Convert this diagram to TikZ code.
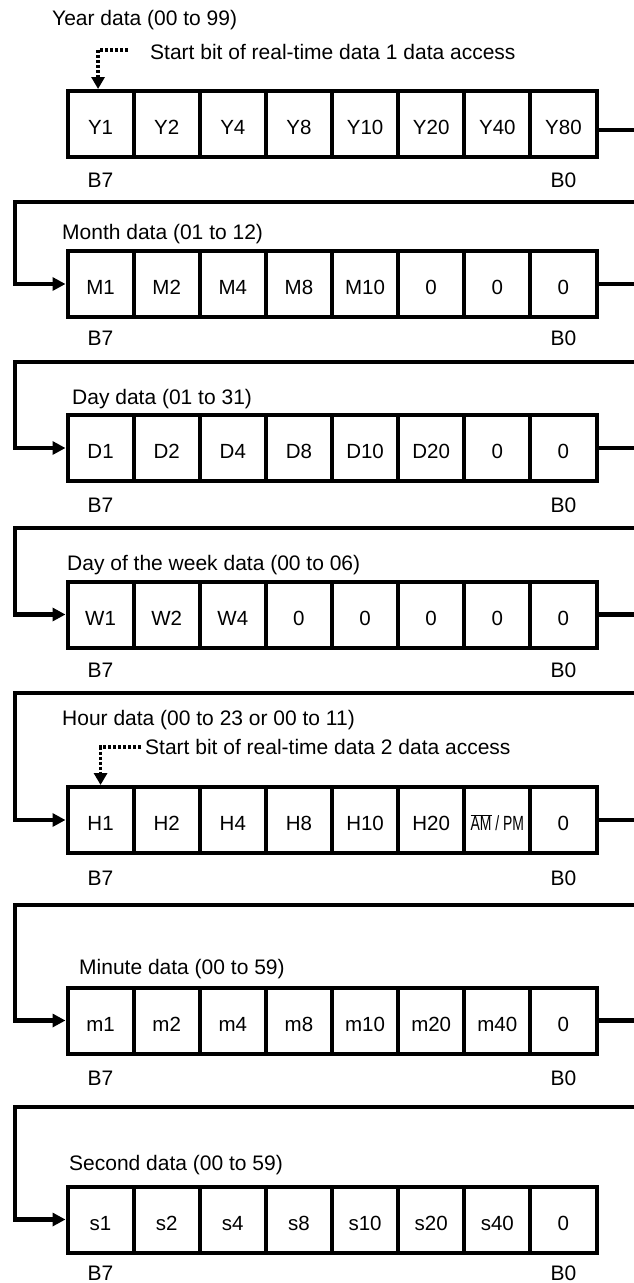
\documentclass[tikz,border=0pt]{standalone}
\usepackage{fontspec}
\setmainfont{Liberation Sans}
\usepackage{graphicx}
\usetikzlibrary{arrows.meta,calc}
\newcommand\bitrow[3]{%
  \foreach \t [count=\i] in {#3} {
    \node[cell] (#1\i) at ({67.5+66.125*(\i-0.5)}, #2) {\t};
  }%
}
\newcommand\ampmtext{\scalebox{0.68}[1]{$\overline{\mbox{AM}}$ / PM}}
\begin{document}
\begin{tikzpicture}[x=1pt,y=-1pt,
  cell/.style={draw, line width=4pt, minimum width=66.125pt, minimum height=66pt,
    inner sep=0pt, text height=21pt, text depth=0pt, font=\fontsize{20.5}{24}\selectfont},
  title/.style={anchor=base west, inner sep=0pt, font=\fontsize{21}{25}\selectfont},
  lab/.style={anchor=base, inner sep=0pt, font=\fontsize{21}{25}\selectfont},
  conn/.style={line width=4.5pt, line join=miter, -{Triangle[length=13pt,width=13pt]}},
  dotarr/.style={line width=3.5pt, dash pattern=on 3pt off 2pt, -{Triangle[length=12pt,width=13pt]}}
]
\path[use as bounding box] (0,0) rectangle (634,1283);
\clip (0,0) rectangle (634,1283);

% titles
\node[title] (t1) at (52,25.5) {Year data (00 to 99)};
\node[title] (t2) at (62,239.5) {Month data (01 to 12)};
\node[title] (t3) at (72,404.5) {Day data (01 to 31)};
\node[title] (t4) at (67,570.5) {Day of the week data (00 to 06)};
\node[title] (t5) at (62,725.5) {Hour data (00 to 23 or 00 to 11)};
\node[title] (t6) at (79,974.5) {Minute data (00 to 59)};
\node[title] (t7) at (69,1170.5) {Second data (00 to 59)};
\node[title] (sb1) at (150,59.5) {Start bit of real-time data 1 data access};
\node[title] (sb2) at (145,754.5) {Start bit of real-time data 2 data access};

% bit rows
\bitrow{a}{124}{Y1,Y2,Y4,Y8,Y10,Y20,Y40,Y80}
\bitrow{b}{284}{M1,M2,M4,M8,M10,0,0,0}
\bitrow{c}{448}{D1,D2,D4,D8,D10,D20,0,0}
\bitrow{d}{614.5}{W1,W2,W4,0,0,0,0,0}
\bitrow{e}{820}{H1,H2,H4,H8,H10,H20,{\ampmtext},0}
\bitrow{f}{1020.5}{m1,m2,m4,m8,m10,m20,m40,0}
\bitrow{g}{1219.5}{s1,s2,s4,s8,s10,s20,s40,0}

% B7 / B0 labels
\foreach \r/\y in {a/187.5,b/345.5,c/512.5,d/677.5,e/885.5,f/1085.5,g/1280.5}{
  \node[lab] (\r B7) at (100.5,\y) {B7};
  \node[lab] (\r B0) at (563.5,\y) {B0};
}

% row connectors
\coordinate (k1) at (15,202);
\coordinate (k2) at (15,362);
\coordinate (k3) at (15,528);
\coordinate (k4) at (15,693);
\coordinate (k5) at (15,905);
\coordinate (k6) at (15,1107);
\draw[conn] ([yshift=-6pt]a8.east) -- ++(60,0) |- (k1) |- (b1.west);
\draw[conn] (b8.east) -- ++(60,0) |- (k2) |- (c1.west);
\draw[conn] (c8.east) -- ++(60,0) |- (k3) |- (d1.west);
\draw[conn] (d8.east) -- ++(60,0) |- (k4) |- (e1.west);
\draw[conn] (e8.east) -- ++(60,0) |- (k5) |- (f1.west);
\draw[conn] (f8.east) -- ++(60,0) |- (k6) |- (g1.west);

% start bit markers
\coordinate (d1s) at (128,50);
\coordinate (d2s) at (141,747);
\draw[dotarr] (d1s) -| ([xshift=-2.5pt]a1.north);
\draw[dotarr] (d2s) -| (e1.north);
\end{tikzpicture}
\end{document}
